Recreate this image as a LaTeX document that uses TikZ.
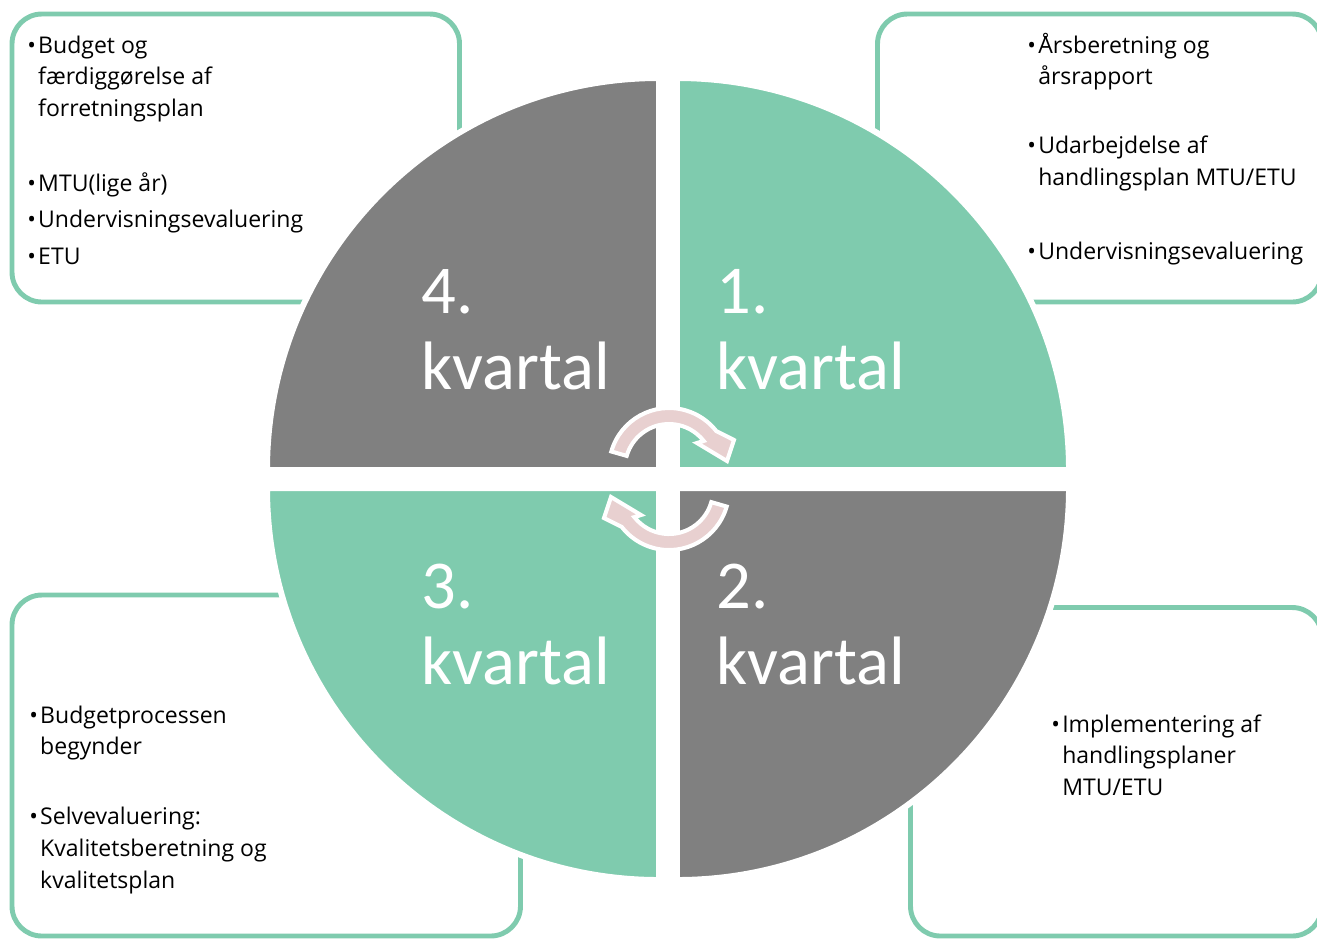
\documentclass[tikz,border=0pt]{standalone}
\usepackage{fontspec}
\setmainfont{Open Sans}
\newfontfamily\kvfont{Carlito}
\usetikzlibrary{calc}

\definecolor{groen}{RGB}{127,203,174}
\definecolor{graa}{RGB}{128,128,128}
\definecolor{rosa}{RGB}{232,208,208}

\newcommand\punkt{\textbullet}
\newcommand\liste[1]{\begin{tabular}[t]{@{}p{6.2pt}@{}l@{}}#1\end{tabular}}
\newcommand\kvlabel[1]{\begin{tabular}[t]{@{}l@{}}#1.\\kvartal\end{tabular}}

\begin{document}
\begin{tikzpicture}[x=0.02cm,y=-0.02cm,
   boks/.style={draw=groen, line width=2.8pt, rounded corners=17pt, fill=white},
   kvart/.style={draw=white, line width=3.4pt},
   pil/.style={fill=rosa, draw=white, line width=2.3pt, line join=miter},
   tekst/.style={anchor=base west, inner sep=0pt,
      font=\fontsize{13.1}{18.1}\selectfont},
   kvtekst/.style={anchor=base west, inner sep=0pt, text=white,
      font=\kvfont\fontsize{39}{43.7}\selectfont}]
\useasboundingbox (0,0) rectangle (1317,938);
% boxes
\draw[boks] (12,14) rectangle (459.5,302);
\draw[boks] (877.5,14) rectangle (1322,302);
\draw[boks] (910.5,607.5) rectangle (1322,936);
\draw[boks] (12,595) rectangle (520.5,936);
% quarters
\fill[graa, kvart] (659,470) -- ++(180:392) arc[start angle=180, end angle=270, radius=392] -- cycle;
\fill[groen, kvart] (677,470) -- ++(270:392) arc[start angle=270, end angle=360, radius=392] -- cycle;
\fill[graa, kvart] (677,488) -- ++(0:392) arc[start angle=0, end angle=90, radius=392] -- cycle;
\fill[groen, kvart] (659,488) -- ++(90:392) arc[start angle=90, end angle=180, radius=392] -- cycle;
% arrows
\foreach \w in {0,180}{
 \begin{scope}[rotate around={\w:(669,479)}]
  \filldraw[pil] ($(669,468)+(196:60)$) arc[start angle=196, end angle=322, radius=60]
     -- (734,440) -- (727,461) -- (697,443)
     -- ($(669,468)+(322:44)$) arc[start angle=322, end angle=196, radius=44] -- cycle;
 \end{scope}
}
% quarter labels
\node[kvtekst] (K4) at (421,313) {\kvlabel{4}};
\node[kvtekst] (K1) at (716,313) {\kvlabel{1}};
\node[kvtekst] (K3) at (421,608) {\kvlabel{3}};
\node[kvtekst] (K2) at (716,608) {\kvlabel{2}};
% box texts
\node[tekst] (T4) at (27,53) {\liste{\punkt & Budget og\\ & færdiggørelse af\\ & forretningsplan\\[24.4pt]
   \punkt & MTU(lige år)\\[2.6pt] \punkt & Undervisningsevaluering\\[2.6pt] \punkt & ETU}};
\node[tekst] (T1) at (1027,53) {\liste{\punkt & Årsberetning og\\ & årsrapport\\[21pt]
   \punkt & Udarbejdelse af\\ & handlingsplan MTU/ETU\\[24pt] \punkt & Undervisningsevaluering}};
\node[tekst] (T2) at (1051,732) {\liste{\punkt & Implementering af\\ & handlingsplaner\\ & MTU/ETU}};
\node[tekst] (T3) at (29,723) {\liste{\punkt & Budgetprocessen\\ & begynder\\[21.6pt]
   \punkt & Selvevaluering:\\ & Kvalitetsberetning og\\ & kvalitetsplan}};
\end{tikzpicture}
\end{document}
